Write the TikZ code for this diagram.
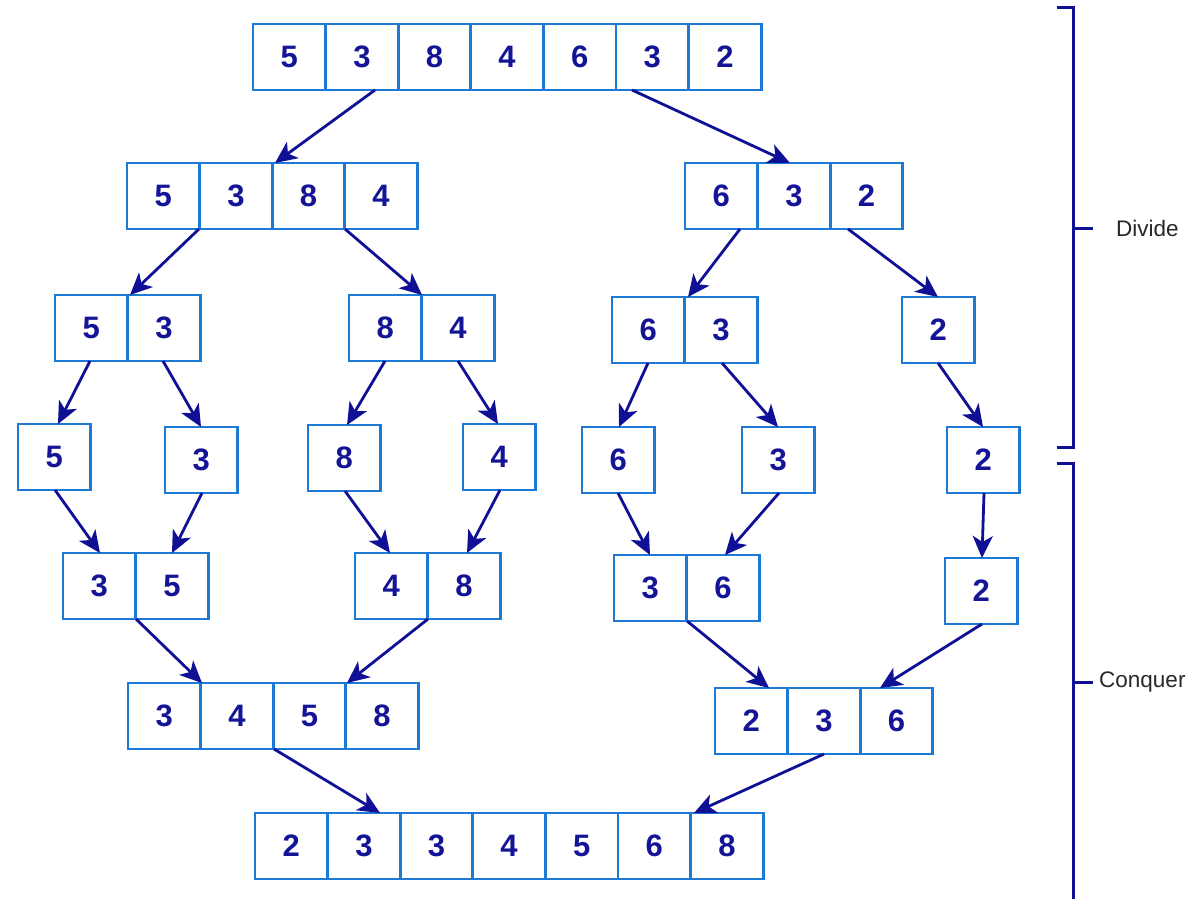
\documentclass[tikz,border=0pt]{standalone}
\usepackage{fontspec}
\setmainfont{Liberation Sans}
\usetikzlibrary{arrows.meta,calc}
\definecolor{cellblue}{RGB}{28,122,214}
\definecolor{digitnavy}{RGB}{20,20,150}
\definecolor{arrnavy}{RGB}{16,16,150}
\definecolor{labgray}{RGB}{40,40,40}
\tikzset{
  cell/.style={draw=cellblue, line width=2.8pt, fill=white, minimum width=72.6pt, minimum height=66pt,
    inner sep=0pt, outer sep=0pt, anchor=north west, text=digitnavy, font=\bfseries\fontsize{31}{31}\selectfont},
  link/.style={draw=arrnavy, line width=2.8pt, -{Stealth[length=22pt,width=20pt,inset=6pt]}},
  brk/.style={draw=arrnavy, line width=3pt},
  lab/.style={anchor=west, text=labgray, inner sep=0pt, font=\fontsize{22.5}{22.5}\selectfont}
}
\newcommand{\cellrow}[4]{%
  \foreach \v [count=\i] in {#4} {
    \node[cell] (#1\i) at ({#2+(\i-1)*72.6}, #3) {\v};
  }%
  \coordinate (#1) at (#2,#3);%
}
\begin{document}
\begin{tikzpicture}[x=1pt,y=-1pt]
\useasboundingbox[fill=white] (0,0) rectangle (1203,899);
% rows
\cellrow{T}{253}{24}{5,3,8,4,6,3,2}
\cellrow{L}{127}{163}{5,3,8,4}
\cellrow{R}{685}{163}{6,3,2}
\cellrow{A}{55}{295}{5,3}
\cellrow{B}{349}{295}{8,4}
\cellrow{C}{612}{297}{6,3}
\cellrow{D}{902}{297}{2}
\cellrow{E}{18}{424}{5}
\cellrow{F}{165}{427}{3}
\cellrow{G}{308}{425}{8}
\cellrow{H}{463}{424}{4}
\cellrow{I}{582}{427}{6}
\cellrow{J}{742}{427}{3}
\cellrow{K}{947}{427}{2}
\cellrow{M}{63}{553}{3,5}
\cellrow{N}{355}{553}{4,8}
\cellrow{O}{614}{555}{3,6}
\cellrow{P}{945}{558}{2}
\cellrow{Q}{128}{683}{3,4,5,8}
\cellrow{S}{715}{688}{2,3,6}
\cellrow{Z}{255}{813}{2,3,3,4,5,6,8}
% arrows
\draw[link] ([xshift=122pt]T1.south west) -- ([xshift=148pt]L1.north west);
\draw[link] ([xshift=379pt]T1.south west) -- ([xshift=105pt]R1.north west);
\draw[link] ([xshift=72pt]L1.south west) -- ([xshift=75pt]A1.north west);
\draw[link] ([xshift=218pt]L1.south west) -- ([xshift=73pt]B1.north west);
\draw[link] ([xshift=55pt]R1.south west) -- ([xshift=76pt]C1.north west);
\draw[link] ([xshift=163pt]R1.south west) -- ([xshift=36pt]D1.north west);
\draw[link] ([xshift=35pt]A1.south west) -- ([xshift=40pt]E1.north west);
\draw[link] ([xshift=108pt]A1.south west) -- ([xshift=36pt]F1.north west);
\draw[link] ([xshift=36pt]B1.south west) -- ([xshift=39pt]G1.north west);
\draw[link] ([xshift=109pt]B1.south west) -- ([xshift=35pt]H1.north west);
\draw[link] ([xshift=36pt]C1.south west) -- ([xshift=37pt]I1.north west);
\draw[link] ([xshift=110pt]C1.south west) -- ([xshift=36pt]J1.north west);
\draw[link] ([xshift=36pt]D1.south west) -- ([xshift=36pt]K1.north west);
\draw[link] ([xshift=37pt]E1.south west) -- ([xshift=37pt]M1.north west);
\draw[link] ([xshift=37pt]F1.south west) -- ([xshift=109pt]M1.north west);
\draw[link] ([xshift=37pt]G1.south west) -- ([xshift=35pt]N1.north west);
\draw[link] ([xshift=37pt]H1.south west) -- ([xshift=112pt]N1.north west);
\draw[link] ([xshift=36pt]I1.south west) -- ([xshift=36pt]O1.north west);
\draw[link] ([xshift=37pt]J1.south west) -- ([xshift=111pt]O1.north west);
\draw[link] ([xshift=37pt]K1.south west) -- ([xshift=37pt]P1.north west);
\draw[link] ([xshift=73pt]M1.south west) -- ([xshift=74pt]Q1.north west);
\draw[link] ([xshift=73pt]N1.south west) -- ([xshift=219pt]Q1.north west);
\draw[link] ([xshift=73pt]O1.south west) -- ([xshift=54pt]S1.north west);
\draw[link] ([xshift=37pt]P1.south west) -- ([xshift=165pt]S1.north west);
\draw[link] ([xshift=146pt]Q1.south west) -- ([xshift=125pt]Z1.north west);
\draw[link] ([xshift=109pt]S1.south west) -- ([xshift=439pt]Z1.north west);
% brackets
\coordinate (dtop) at (1057,8);
\coordinate (dbot) at (1057,447);
\coordinate (dmid) at (1073,228);
\coordinate (ctop) at (1057,463);
\coordinate (cbot) at (1073,905);
\coordinate (cmid) at (1073,682);
\draw[brk] (dtop) -- (dtop -| dmid) -- (dbot -| dmid) -- (dbot);
\draw[brk] (dmid) -- ++(20,0);
\node[lab] (divide) at (1116,228) {Divide};
\draw[brk] (ctop) -- (ctop -| cmid) -- (cbot);
\draw[brk] (cmid) -- ++(20,0);
\node[lab] (conquer) at (1099,682) {Conquer};
\end{tikzpicture}
\end{document}
